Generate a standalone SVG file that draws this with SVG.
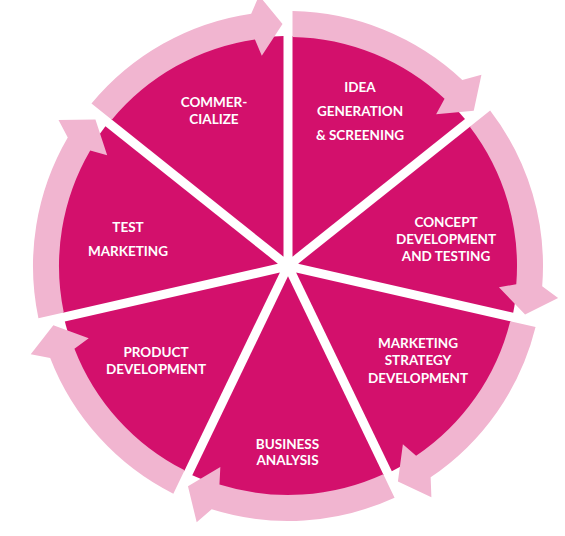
<svg xmlns="http://www.w3.org/2000/svg" width="565" height="536" viewBox="0 0 565 536">
<defs>
<style>
.wedge{fill:#D3106C}
.arrow{fill:#F1B5D0}
.lbl{font-family:Lato,"Liberation Sans",sans-serif;font-weight:700;font-size:13.5px;fill:#ffffff;text-anchor:middle}
</style>
<path id="w" d="M4.5,-9.345 L4.5,-229.956 A230,230 0 0 1 176.981,-146.893 Z"/>
<path id="a" d="M4.5,-254.96 A255,255 0 0 1 174.33,-186.104 L193.435,-191.227 L185.732,-155.137 L148.141,-151.652 L156.555,-167.129 A229,229 0 0 0 4.5,-228.956 Z"/>
</defs>
<rect width="565" height="536" fill="#ffffff"/>
<g id="node-idea">
<use href="#w" class="wedge" transform="translate(288,266) rotate(0)"/>
<text class="lbl" x="360" y="92">IDEA</text>
<text class="lbl" x="360" y="115.5">GENERATION</text>
<text class="lbl" x="360" y="139.5">&amp; SCREENING</text>
</g>
<g id="node-concept">
<use href="#w" class="wedge" transform="translate(288,266) rotate(51.4286)"/>
<text class="lbl" x="446" y="227">CONCEPT</text>
<text class="lbl" x="446" y="244">DEVELOPMENT</text>
<text class="lbl" x="446" y="261">AND TESTING</text>
</g>
<g id="node-strategy">
<use href="#w" class="wedge" transform="translate(288,266) rotate(102.8571)"/>
<text class="lbl" x="418" y="347.5">MARKETING</text>
<text class="lbl" x="418" y="365">STRATEGY</text>
<text class="lbl" x="418" y="382.5">DEVELOPMENT</text>
</g>
<g id="node-business">
<use href="#w" class="wedge" transform="translate(288,266) rotate(154.2857)"/>
<text class="lbl" x="287.5" y="448.5">BUSINESS</text>
<text class="lbl" x="287.5" y="465">ANALYSIS</text>
</g>
<g id="node-product">
<use href="#w" class="wedge" transform="translate(288,266) rotate(205.7143)"/>
<text class="lbl" x="156" y="356.5">PRODUCT</text>
<text class="lbl" x="156" y="374">DEVELOPMENT</text>
</g>
<g id="node-test">
<use href="#w" class="wedge" transform="translate(288,266) rotate(257.1429)"/>
<text class="lbl" x="128" y="231.5">TEST</text>
<text class="lbl" x="128" y="255.5">MARKETING</text>
</g>
<g id="node-commercialize">
<use href="#w" class="wedge" transform="translate(288,266) rotate(308.5714)"/>
<text class="lbl" x="214" y="107">COMMER-</text>
<text class="lbl" x="214" y="124">CIALIZE</text>
</g>
<g id="connectors" class="arrow">
<use href="#a" transform="translate(288,266) rotate(0)"/>
<use href="#a" transform="translate(288,266) rotate(51.4286)"/>
<use href="#a" transform="translate(288,266) rotate(102.8571)"/>
<use href="#a" transform="translate(288,266) rotate(154.2857)"/>
<use href="#a" transform="translate(288,266) rotate(205.7143)"/>
<use href="#a" transform="translate(288,266) rotate(257.1429)"/>
<use href="#a" transform="translate(288,266) rotate(308.5714)"/>
</g>
</svg>
